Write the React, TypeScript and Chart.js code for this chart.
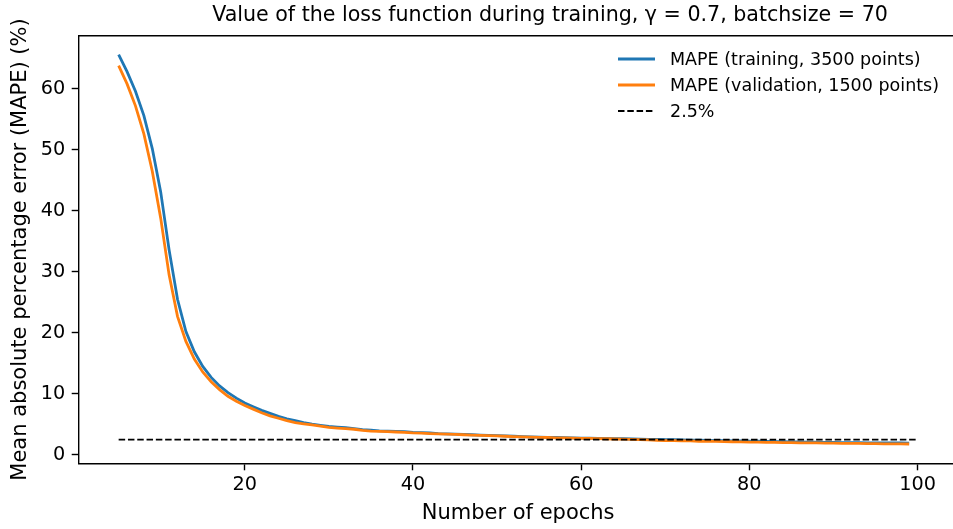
import React, { useEffect, useRef } from "react";
import { Chart, registerables } from "chart.js";

Chart.register(...registerables);

const epochs = [
  5, 6, 7, 8, 9, 10, 11, 12, 13, 14, 15, 16, 17, 18, 19, 20, 21, 22, 23, 24,
  25, 26, 27, 28, 29, 30, 31, 32, 33, 34, 35, 36, 37, 38, 39, 40, 41, 42, 43, 44,
  45, 46, 47, 48, 49, 50, 51, 52, 53, 54, 55, 56, 57, 58, 59, 60, 61, 62, 63, 64,
  65, 66, 67, 68, 69, 70, 71, 72, 73, 74, 75, 76, 77, 78, 79, 80, 81, 82, 83, 84,
  85, 86, 87, 88, 89, 90, 91, 92, 93, 94, 95, 96, 97, 98, 99,
];

const trainingMape = [
  65.6, 62.8, 59.6, 55.6, 50.2, 43.1, 33.6, 25.5, 20.2, 16.9, 14.5, 12.7, 11.3, 10.2, 9.3, 8.5, 7.9, 7.3, 6.8, 6.3,
  5.9, 5.6, 5.3, 5.05, 4.85, 4.65, 4.55, 4.45, 4.3, 4.15, 4.05, 3.95, 3.9, 3.85, 3.8, 3.7, 3.65, 3.6, 3.5, 3.45,
  3.4, 3.35, 3.3, 3.25, 3.2, 3.15, 3.1, 3.05, 3.0, 2.95, 2.9, 2.88, 2.85, 2.82, 2.8, 2.76, 2.74, 2.72, 2.7, 2.66,
  2.64, 2.6, 2.57, 2.55, 2.52, 2.5, 2.48, 2.45, 2.42, 2.4, 2.38, 2.35, 2.33, 2.3, 2.28, 2.26, 2.23, 2.2, 2.18, 2.16,
  2.14, 2.12, 2.1, 2.08, 2.06, 2.04, 2.02, 2.0, 2.0, 1.98, 1.97, 1.96, 1.95, 1.95, 1.93,
];

const validationMape = [
  63.8, 60.8, 57.2, 52.6, 46.5, 38.8, 29.5, 22.7, 18.6, 15.7, 13.6, 12.0, 10.7, 9.6, 8.8, 8.1, 7.5, 6.9, 6.4, 6.0,
  5.6, 5.3, 5.1, 4.9, 4.7, 4.5, 4.4, 4.3, 4.2, 4.0, 3.9, 3.85, 3.8, 3.75, 3.7, 3.6, 3.55, 3.5, 3.45, 3.4,
  3.35, 3.3, 3.25, 3.2, 3.15, 3.1, 3.05, 3.0, 2.95, 2.9, 2.88, 2.85, 2.8, 2.78, 2.75, 2.72, 2.7, 2.68, 2.64, 2.6,
  2.58, 2.55, 2.5, 2.46, 2.4, 2.35, 2.32, 2.3, 2.28, 2.22, 2.25, 2.2, 2.17, 2.15, 2.12, 2.1, 2.08, 2.06, 2.04, 2.02,
  2.0, 1.98, 1.97, 1.96, 1.94, 1.92, 1.9, 1.88, 1.87, 1.85, 1.86, 1.82, 1.8, 1.8, 1.78,
];

const thresholdEpochs = [5, 100];
const thresholdValues = [2.5, 2.5];

const xTicks = [20, 40, 60, 80, 100];
const yTicks = [0, 10, 20, 30, 40, 50, 60];

const seriesLabels = [
  "MAPE (training, 3500 points)",
  "MAPE (validation, 1500 points)",
  "2.5%",
];

const titleText = "Value of the loss function during training, \u03b3 = 0.7, batchsize = 70";
const xLabel = "Number of epochs";
const yLabel = "Mean absolute percentage error (MAPE) (%)";

const FONT = "'DejaVu Sans', sans-serif";

const framePlugin = {
  id: "frame",
  afterDraw(chart: any) {
    const { ctx, chartArea } = chart;
    ctx.save();
    ctx.strokeStyle = "#000";
    ctx.lineWidth = 1.4;
    ctx.beginPath();
    ctx.moveTo(chartArea.left, chartArea.top);
    ctx.lineTo(chartArea.right, chartArea.top);
    ctx.lineTo(chartArea.right, chartArea.bottom);
    ctx.stroke();
    ctx.restore();
  },
};

const titlePlugin = {
  id: "mplTitle",
  afterDraw(chart: any, _args: any, opts: any) {
    const { ctx } = chart;
    ctx.save();
    ctx.font = `${opts.size}px ${FONT}`;
    ctx.fillStyle = "#000";
    ctx.textAlign = "center";
    ctx.textBaseline = "alphabetic";
    ctx.fillText(opts.text, opts.x, opts.y);
    ctx.restore();
  },
};

const legendPlugin = {
  id: "mplLegend",
  afterDraw(chart: any, _args: any, opts: any) {
    const { ctx } = chart;
    const ds = chart.data.datasets;
    ctx.save();
    ctx.font = `${opts.size}px ${FONT}`;
    ctx.textBaseline = "middle";
    ctx.textAlign = "left";
    ds.forEach((d: any, i: number) => {
      const y = opts.y + i * opts.rowH;
      ctx.strokeStyle = d.borderColor;
      ctx.lineWidth = d.borderWidth;
      ctx.setLineDash(d.borderDash || []);
      ctx.beginPath();
      ctx.moveTo(opts.x, y);
      ctx.lineTo(opts.x + opts.handle, y);
      ctx.stroke();
      ctx.setLineDash([]);
      ctx.fillStyle = "#000";
      ctx.fillText(d.label, opts.x + opts.handle + opts.gap, y + 1);
    });
    ctx.restore();
  },
};

export default function App() {
  const ref = useRef<HTMLCanvasElement | null>(null);

  useEffect(() => {
    if (!ref.current) return;
    const chart = new Chart(ref.current, {
      type: "line",
      data: {
        datasets: [
          {
            label: seriesLabels[0],
            data: epochs.map((e, i) => ({ x: e, y: trainingMape[i] })),
            borderColor: "#1f77b4",
            borderWidth: 2.8,
            pointRadius: 0,
            tension: 0,
            order: 2,
          },
          {
            label: seriesLabels[1],
            data: epochs.map((e, i) => ({ x: e, y: validationMape[i] })),
            borderColor: "#ff7f0e",
            borderWidth: 2.8,
            pointRadius: 0,
            tension: 0,
            order: 1,
          },
          {
            label: seriesLabels[2],
            data: thresholdEpochs.map((e, i) => ({ x: e, y: thresholdValues[i] })),
            borderColor: "#000000",
            borderWidth: 1.9,
            borderDash: [6.5, 2.8],
            pointRadius: 0,
            tension: 0,
            order: 0,
          },
        ],
      },
      options: {
        animation: false,
        responsive: false,
        devicePixelRatio: 1,
        layout: { padding: { top: 35.7, right: 2.5, bottom: 0, left: 0 } },
        plugins: {
          legend: { display: false },
          title: { display: false },
          tooltip: { enabled: false },
          mplTitle: { text: titleText, x: 550, y: 21, size: 20.6 },
          mplLegend: { x: 618, y: 59, rowH: 26, handle: 37, gap: 15, size: 17.5 },
        } as any,
        scales: {
          x: {
            type: "linear",
            min: 0.25,
            max: 104.75,
            afterBuildTicks: (s: any) => {
              s.ticks = xTicks.map((v) => ({ value: v }));
            },
            afterFit: (s: any) => {
              s.height = 65.7;
            },
            grid: {
              drawOnChartArea: false,
              drawTicks: true,
              tickLength: 7,
              tickColor: "#000",
              tickWidth: 1.4,
            },
            border: { display: true, color: "#000", width: 1.4 },
            ticks: {
              color: "#000",
              font: { family: FONT, size: 19.25 },
              padding: 3,
              maxRotation: 0,
              autoSkip: false,
            },
            title: {
              display: true,
              text: xLabel,
              color: "#000",
              font: { family: FONT, size: 21 },
              padding: { top: 0, bottom: 2.7 },
            },
          },
          y: {
            type: "linear",
            min: -1.38,
            max: 68.7,
            afterBuildTicks: (s: any) => {
              s.ticks = yTicks.map((v) => ({ value: v }));
            },
            afterFit: (s: any) => {
              s.width = 78.7;
            },
            grid: {
              drawOnChartArea: false,
              drawTicks: true,
              tickLength: 7,
              tickColor: "#000",
              tickWidth: 1.4,
            },
            border: { display: true, color: "#000", width: 1.4 },
            ticks: {
              color: "#000",
              font: { family: FONT, size: 19.25 },
              padding: 6.5,
              autoSkip: false,
            },
            title: {
              display: true,
              text: yLabel,
              color: "#000",
              font: { family: FONT, size: 21 },
              padding: { top: 8.1, bottom: 0 },
            },
          },
        },
      },
      plugins: [framePlugin, titlePlugin, legendPlugin],
    });
    return () => chart.destroy();
  }, []);

  return (
    <div
      style={{
        position: "fixed",
        left: 0,
        top: 0,
        width: 953,
        height: 529,
        overflow: "hidden",
        background: "#fff",
      }}
    >
      <canvas ref={ref} width={960} height={529} style={{ display: "block" }} />
    </div>
  );
}
